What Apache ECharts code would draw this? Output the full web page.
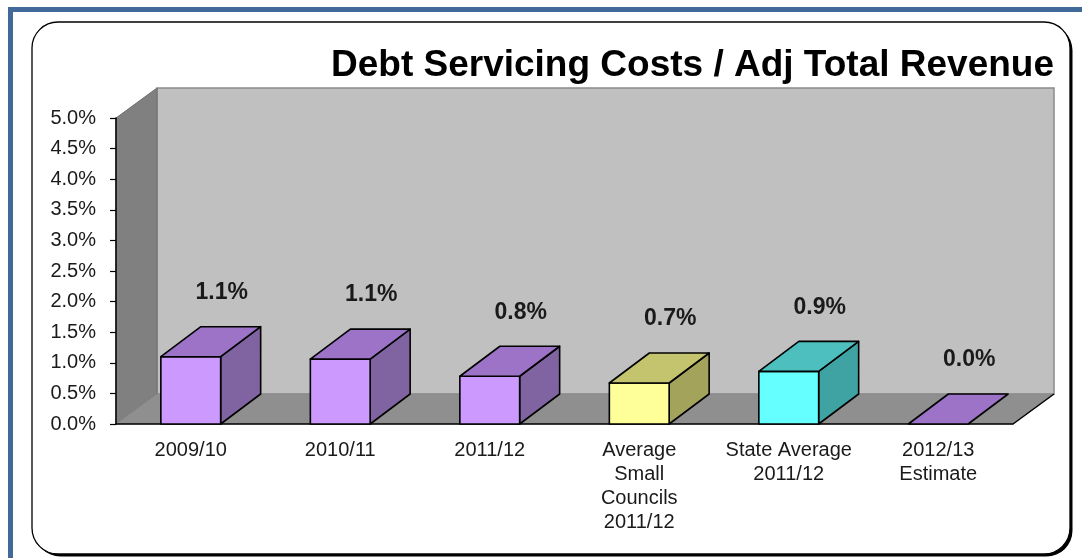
<!DOCTYPE html>
<html>
<head>
<meta charset="utf-8">
<script src="https://cdn.jsdelivr.net/npm/echarts@6/dist/echarts.min.js"></script>
<style>
  html, body { margin: 0; padding: 0; background: #fff; }
  #chart { width: 1082px; height: 558px; }
</style>
</head>
<body>
<div id="chart"></div>
<script>
// Data
const categories = [
  "2009/10",
  "2010/11",
  "2011/12",
  "Average\nSmall\nCouncils\n2011/12",
  "State Average\n2011/12",
  "2012/13\nEstimate"
]
const debtRatio = [1.10, 1.06, 0.78, 0.67, 0.86, 0.00] // percent
const axisMax = 5
const axisStep = 0.5

// Face colours for each bar: [front, top, side]
const purple = ["#cc99ff", "#9c73c6", "#8064a2"]
const faceColors = [
  purple,
  purple,
  purple,
  ["#ffff99", "#c4c46e", "#a3a35c"],
  ["#66ffff", "#4dbfbf", "#40a3a3"],
  purple
]

// Excel-style 3D depth offset in pixels
const depth = [41, -30]
const barDepth = [40, -30]

// Floor, back wall and left wall of the 3D box
function renderWalls(params, api) {
  const band = api.size([1, 0])[0]
  const x0 = api.coord([0, 0])[0] - band / 2
  const x1 = api.coord([categories.length - 1, 0])[0] + band / 2
  const y0 = api.coord([0, 0])[1]
  const yTop = api.coord([0, axisMax])[1]
  const [dx, dy] = depth

  return {
    type: "group",
    children: [
      {
        type: "polygon",
        shape: { points: [[x0 + dx, yTop + dy], [x1 + dx, yTop + dy], [x1 + dx, y0 + dy], [x0 + dx, y0 + dy]] },
        style: { fill: "#c0c0c0", stroke: "#8a8a8a", lineWidth: 1.5 }
      },
      {
        type: "polygon",
        shape: { points: [[x0, yTop], [x0 + dx, yTop + dy], [x0 + dx, y0 + dy], [x0, y0]] },
        style: { fill: "#808080", stroke: "#6e6e6e", lineWidth: 1 }
      },
      {
        type: "polygon",
        shape: { points: [[x0, y0], [x1, y0], [x1 + dx, y0 + dy], [x0 + dx, y0 + dy]] },
        style: { fill: "#8f8f8f", stroke: "#888", lineWidth: 0.5 }
      },
      {
        type: "line",
        shape: { x1: x1, y1: y0, x2: x1 + dx, y2: y0 + dy },
        style: { stroke: "#000", lineWidth: 1.5 }
      }
    ]
  }
}

function renderBar(params, api) {
  const idx = api.value(0)
  const val = api.value(1)
  const band = api.size([1, 0])[0]
  const top = api.coord([idx, val])
  const base = api.coord([idx, 0])
  const w = band * 0.4
  const xl = top[0] - w / 2
  const xr = top[0] + w / 2
  const yt = top[1]
  const yb = base[1]
  const [dx, dy] = barDepth
  const [front, upper, side] = faceColors[idx]
  const edge = { stroke: "#000", lineWidth: 1.6, lineJoin: "round" }

  const children = []
  if (yb - yt > 0.5) {
    children.push({
      type: "polygon",
      shape: { points: [[xr, yt], [xr + dx, yt + dy], [xr + dx, yb + dy], [xr, yb]] },
      style: Object.assign({ fill: side }, edge)
    })
    children.push({
      type: "rect",
      shape: { x: xl, y: yt, width: w, height: yb - yt },
      style: Object.assign({ fill: front }, edge)
    })
  }
  children.push({
    type: "polygon",
    shape: { points: [[xl, yt], [xl + dx, yt + dy], [xr + dx, yt + dy], [xr, yt]] },
    style: Object.assign({ fill: upper }, edge)
  })
  children.push({
    type: "text",
    x: top[0] + 31,
    y: yt - 64,
    style: {
      text: val.toFixed(1) + "%",
      font: "bold 23px 'Liberation Sans', Arial, sans-serif",
      fill: "#1a1a1a",
      align: "center",
      verticalAlign: "middle"
    }
  })
  return { type: "group", children }
}

const chart = echarts.init(document.getElementById("chart"), null, { renderer: "canvas" })

chart.setOption({
  animation: false,
  backgroundColor: "#fff",
  textStyle: { fontFamily: "'Liberation Sans', Arial, sans-serif" },
  graphic: [
    {
      type: "rect",
      z: -30,
      shape: { x: 10.5, y: 9.5, width: 1200, height: 700 },
      style: { fill: "#fff", stroke: "#41699a", lineWidth: 5 }
    },
    // drop shadow of the rounded frame (shows as thick right/bottom edge)
    {
      type: "rect",
      z: -20,
      shape: { x: 34.5, y: 24.5, width: 1038, height: 532, r: 26 },
      style: { fill: "#000" }
    },
    {
      type: "rect",
      z: -10,
      shape: { x: 32, y: 22, width: 1038, height: 532, r: 26 },
      style: { fill: "#fff", stroke: "#000", lineWidth: 1.3 }
    },
    {
      type: "text",
      z: 10,
      x: 1054,
      y: 66,
      style: {
        text: "Debt Servicing Costs / Adj Total Revenue",
        font: "bold 37px 'Liberation Sans', Arial, sans-serif",
        fill: "#000",
        align: "right",
        verticalAlign: "middle"
      }
    }
  ],
  grid: { left: 116, right: 69, top: 118, bottom: 134 },
  xAxis: {
    type: "category",
    data: categories,
    z: 5,
    axisLine: { lineStyle: { color: "#000", width: 1.5 } },
    axisTick: { length: 7, lineStyle: { color: "#000", width: 1.2 } },
    axisLabel: { color: "#1a1a1a", fontSize: 20, lineHeight: 24, margin: 14, interval: 0 },
    splitLine: { show: false }
  },
  yAxis: {
    type: "value",
    min: 0,
    max: axisMax,
    interval: axisStep,
    z: 5,
    axisLine: { show: true, lineStyle: { color: "#000", width: 1.5 } },
    axisTick: { show: true, length: 6, lineStyle: { color: "#000", width: 1.2 } },
    axisLabel: { color: "#1a1a1a", fontSize: 20, margin: 20, formatter: (v) => v.toFixed(1) + "%" },
    splitLine: { show: false }
  },
  series: [
    {
      type: "custom",
      z: 1,
      clip: false,
      silent: true,
      renderItem: renderWalls,
      data: [[0, 0]]
    },
    {
      type: "custom",
      z: 6,
      clip: false,
      renderItem: renderBar,
      encode: { x: 0, y: 1 },
      data: debtRatio.map((v, i) => [i, v])
    }
  ]
})
</script>
</body>
</html>
